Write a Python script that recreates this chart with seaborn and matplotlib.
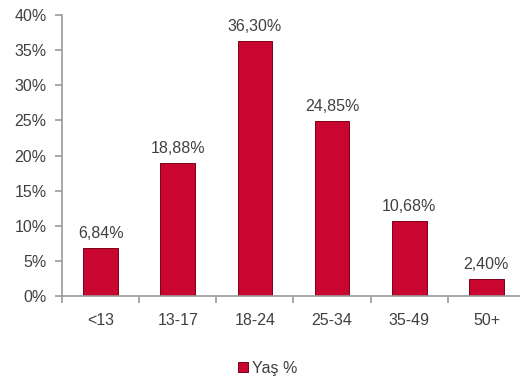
import matplotlib
matplotlib.use("Agg")
import matplotlib.pyplot as plt
import seaborn as sns
import pandas as pd
from matplotlib.ticker import PercentFormatter

categories = ['<13', '13-17', '18-24', '25-34', '35-49', '50+']
values = [6.84, 18.88, 36.30, 24.85, 10.68, 2.40]
value_labels = ['6,84%', '18,88%', '36,30%', '24,85%', '10,68%', '2,40%']
series_name = 'Yaş %'

df = pd.DataFrame({'Yaş': categories, 'pct': values})

sns.set_style('white')
plt.rcParams['font.family'] = ['Liberation Sans', 'DejaVu Sans']
text_color = '#404040'
bar_color = '#C8062F'

fig = plt.figure(figsize=(5.2, 3.83), dpi=100)
ax = fig.add_axes([62 / 520, 87 / 383, 463 / 520, 281 / 383])

sns.barplot(data=df, x='Yaş', y='pct', color=bar_color, width=0.45, saturation=1,
            edgecolor='#7a0018', linewidth=0.7, ax=ax, label=series_name)
if ax.get_legend() is not None:
    ax.get_legend().remove()

for i, (v, lab) in enumerate(zip(values, value_labels)):
    ax.text(i, v + 1.0, lab, ha='center', va='bottom', fontsize=11.5, color=text_color)

ax.set_ylim(0, 40)
ax.set_xlim(-0.5, 5.5)
ax.set_yticks(range(0, 41, 5))
ax.yaxis.set_major_formatter(PercentFormatter(decimals=0))
ax.set_xticks([i + 0.5 for i in range(-1, 5)], minor=True)
ax.tick_params(axis='x', which='major', bottom=False, length=0, pad=12,
               labelsize=11.5, labelcolor=text_color)
ax.tick_params(axis='x', which='minor', bottom=True, length=5, color='#999999',
               width=1.2, direction='out')
ax.tick_params(axis='y', left=True, length=5, color='#999999', width=1.2, direction='out',
               labelsize=11.5, labelcolor=text_color, pad=6)
ax.set_xlabel('')
ax.set_ylabel('')
for s in ['top', 'right']:
    ax.spines[s].set_visible(False)
for s in ['left', 'bottom']:
    ax.spines[s].set_color('#999999')
    ax.spines[s].set_linewidth(1.2)

handles, labels = ax.get_legend_handles_labels()
leg = fig.legend(handles[:1], labels[:1], loc='center', bbox_to_anchor=(268 / 520, 1 - 368 / 383),
                 frameon=False, fontsize=11.5, handlelength=0.6, handleheight=0.6,
                 handletextpad=0.3)
for t in leg.get_texts():
    t.set_color(text_color)

fig.savefig('out.png', dpi=100)
